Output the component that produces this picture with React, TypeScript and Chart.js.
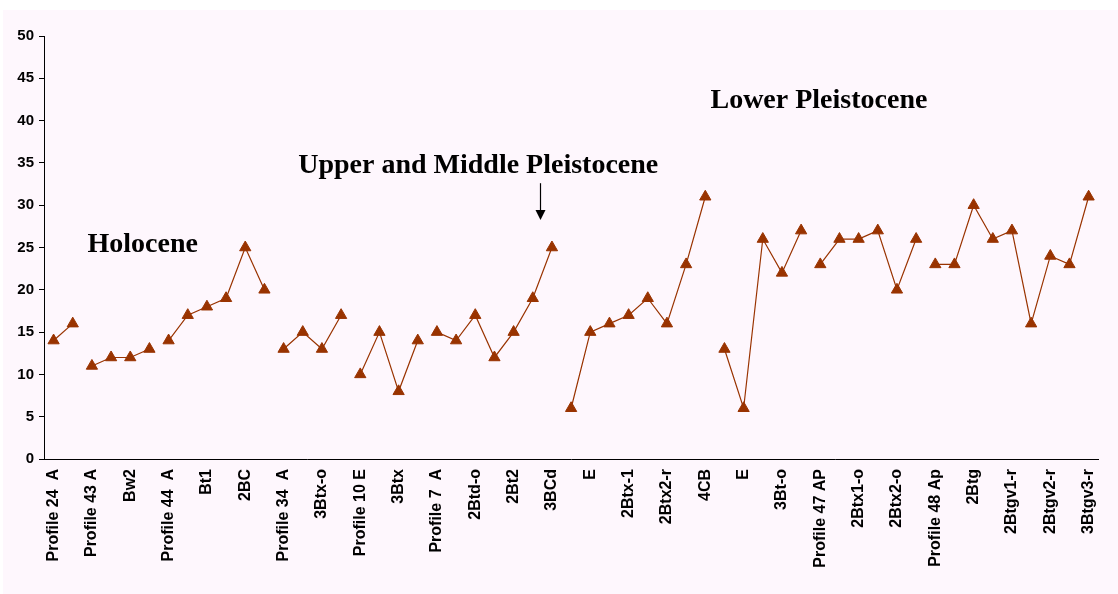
import React, { useEffect, useRef } from "react";
import { Chart, registerables } from "chart.js";

Chart.register(...registerables);

// Horizon labels (only every other one is printed on the axis)
const categories: string[] = [
  "Profile 24  A", "", "Profile 43 A", "", "Bw2", "", "Profile 44  A", "", "Bt1", "", "2BC", "",
  "Profile 34  A", "", "3Btx-o", "", "Profile 10 E", "", "3Btx", "", "Profile 7  A", "",
  "2Btd-o", "", "2Bt2", "", "3BCd", "", "E", "", "2Btx-1", "", "2Btx2-r", "", "4CB", "",
  "E", "", "3Bt-o", "", "Profile 47 AP", "", "2Btx1-o", "", "2Btx2-o", "", "Profile 48 Ap", "",
  "2Btg", "", "2Btgv1-r", "", "2Btgv2-r", "", "3Btgv3-r",
];

const values: number[] = [
  14, 16,
  11, 12, 12, 13,
  14, 17, 18, 19, 25, 20,
  13, 15, 13, 17,
  10, 15, 8, 14,
  15, 14, 17, 12, 15, 19, 25,
  6, 15, 16, 17, 19, 16, 23, 31,
  13, 6, 26, 22, 27,
  23, 26, 26, 27, 20, 26,
  23, 23, 30, 26, 27, 16, 24, 23, 31,
];

// index where each profile starts (line is broken before these)
const profileStarts: number[] = [0, 2, 6, 12, 16, 20, 27, 35, 40, 46];

const yTicks: number[] = [0, 5, 10, 15, 20, 25, 30, 35, 40, 45, 50];

// period annotations, positioned in axis units (category index, value)
const periodLabels = [
  { text: "Holocene", x: 1.77, y: 24.5 },
  { text: "Upper and Middle Pleistocene", x: 12.76, y: 33.8 },
  { text: "Lower Pleistocene", x: 34.27, y: 41.5 },
];
const arrowAnno = { x: 25.36, from: 32.6, to: 28.25 };

const LINE = "#993300";

const annotationPlugin = {
  id: "periods",
  afterDraw(chart: any) {
    const { ctx, scales } = chart;
    const xs = scales.x;
    const ys = scales.y;
    ctx.save();
    ctx.fillStyle = "#000";
    ctx.font = 'bold 28px "Liberation Serif", "Times New Roman", serif';
    ctx.textAlign = "left";
    ctx.textBaseline = "alphabetic";
    for (const l of periodLabels) {
      ctx.fillText(l.text, xs.getPixelForValue(l.x), ys.getPixelForValue(l.y));
    }
    const ax = Math.round(xs.getPixelForValue(arrowAnno.x)) + 0.5;
    const ay1 = ys.getPixelForValue(arrowAnno.from);
    const ay2 = ys.getPixelForValue(arrowAnno.to);
    ctx.strokeStyle = "#000";
    ctx.lineWidth = 1.2;
    ctx.beginPath();
    ctx.moveTo(ax, ay1);
    ctx.lineTo(ax, ay2 - 8);
    ctx.stroke();
    ctx.beginPath();
    ctx.moveTo(ax - 5, ay2 - 10);
    ctx.lineTo(ax + 5, ay2 - 10);
    ctx.lineTo(ax, ay2);
    ctx.closePath();
    ctx.fill();
    ctx.restore();
  },
};

export default function App() {
  const ref = useRef<HTMLCanvasElement | null>(null);
  useEffect(() => {
    if (!ref.current) return;
    const chart = new Chart(ref.current, {
      type: "line",
      data: {
        labels: categories,
        datasets: [
          {
            data: values,
            borderColor: LINE,
            borderWidth: 1.2,
            backgroundColor: LINE,
            pointStyle: "triangle",
            pointRadius: 6.5,
            pointBorderWidth: 1,
            pointBackgroundColor: LINE,
            pointBorderColor: LINE,
            tension: 0,
            segment: {
              borderColor: (c: any) =>
                profileStarts.includes(c.p1DataIndex) ? "rgba(0,0,0,0)" : LINE,
            },
          },
        ],
      },
      options: {
        responsive: false,
        animation: false,
        layout: { padding: { left: 0, top: 26, right: 18, bottom: 0 } },
        plugins: { legend: { display: false }, tooltip: { enabled: false } },
        scales: {
          x: {
            type: "category",
            offset: true,
            grid: { display: false, drawTicks: false },
            border: { display: true, color: "#000", width: 1 },
            ticks: {
              autoSkip: false,
              maxRotation: 90,
              minRotation: 90,
              padding: 10,
              color: "#000",
              font: { family: '"Liberation Sans", Arial, sans-serif', size: 16, weight: "bold" },
            },
            afterFit: (s: any) => {
              s.height = 135;
            },
          },
          y: {
            min: 0,
            max: 50,
            afterBuildTicks: (s: any) => {
              s.ticks = yTicks.map((v) => ({ value: v }));
            },
            grid: {
              display: true,
              drawOnChartArea: false,
              drawTicks: true,
              tickLength: 5,
              color: "#000",
            },
            border: { display: true, color: "#000", width: 1 },
            ticks: {
              padding: 5,
              color: "#000",
              font: { family: '"Liberation Sans", Arial, sans-serif', size: 15, weight: "bold" },
            },
            afterFit: (s: any) => {
              s.width = 41;
            },
          },
        },
      },
      plugins: [annotationPlugin],
    });
    return () => chart.destroy();
  }, []);

  return (
    <div style={{ position: "fixed", left: 0, top: 0, width: 1118, height: 594, background: "#fff" }}>
      <div style={{ position: "absolute", left: 3, top: 10, width: 1115, height: 584, background: "#FEF7FD" }}>
        <canvas ref={ref} width={1115} height={584} style={{ display: "block" }} />
      </div>
    </div>
  );
}
